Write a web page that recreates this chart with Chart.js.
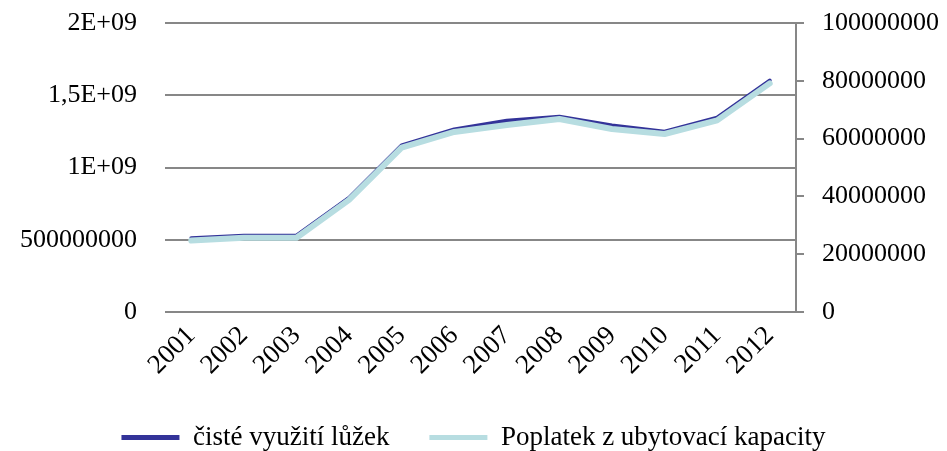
<!DOCTYPE html>
<html>
<head>
<meta charset="utf-8">
<script src="https://cdn.jsdelivr.net/npm/chart.js@4/dist/chart.umd.min.js"></script>
<style>
  html, body { margin: 0; padding: 0; background: #fff; }
  canvas { display: block; }
</style>
</head>
<body>
<canvas id="graf" width="947" height="451"></canvas>
<script>
// roky
var roky = ['2001', '2002', '2003', '2004', '2005', '2006', '2007', '2008', '2009', '2010', '2011', '2012'];
// levá osa
var cisteVyuzitiLuzek = [5.10e8, 5.28e8, 5.28e8, 7.90e8, 1.153e9, 1.264e9, 1.324e9, 1.352e9, 1.290e9, 1.248e9, 1.345e9, 1.602e9];
// pravá osa
var poplatekKapacita = [24.7e6, 25.7e6, 25.7e6, 38.8e6, 56.9e6, 62.3e6, 64.7e6, 66.8e6, 63.3e6, 61.6e6, 66.3e6, 79.1e6];

var popiskyLeva = ['0', '500000000', '1E+09', '1,5E+09', '2E+09'];
var popiskyPrava = ['0', '20000000', '40000000', '60000000', '80000000', '100000000'];

var seda = '#878787';
var pismo = 'Liberation Serif';

var ctx = document.getElementById('graf').getContext('2d');

var graf = new Chart(ctx, {
    type: 'line',
    data: {
        labels: roky,
        datasets: [{
            label: 'čisté využití lůžek',
            data: cisteVyuzitiLuzek,
            borderColor: '#333399',
            backgroundColor: '#333399',
            borderWidth: 4,
            pointRadius: 0,
            tension: 0,
            borderCapStyle: 'round',
            borderJoinStyle: 'round',
            yAxisID: 'y',
            order: 1
        }, {
            label: 'Poplatek z ubytovací kapacity',
            data: poplatekKapacita,
            borderColor: '#b7dde1',
            backgroundColor: '#b7dde1',
            borderWidth: 6,
            pointRadius: 0,
            tension: 0,
            borderCapStyle: 'round',
            borderJoinStyle: 'round',
            yAxisID: 'y1',
            order: 0
        }]
    },
    options: {
        responsive: false,
        animation: false,
        layout: { padding: { top: 23, left: 0, right: 0, bottom: 0 } },
        plugins: {
            tooltip: { enabled: false },
            legend: {
                position: 'bottom',
                maxHeight: 67,
                labels: {
                    color: '#000',
                    font: { family: pismo, size: 27 },
                    boxWidth: 58,
                    boxHeight: 5,
                    padding: 40,
                    sort: function (a, b) { return a.datasetIndex - b.datasetIndex; },
                    generateLabels: function (chart) {
                        var polozky = Chart.defaults.plugins.legend.labels.generateLabels(chart);
                        polozky.forEach(function (p) { p.lineWidth = 0; });
                        return polozky;
                    }
                }
            }
        },
        scales: {
            x: {
                offset: true,
                grid: { display: false, drawTicks: false },
                border: { display: false },
                ticks: {
                    color: '#000',
                    font: { family: pismo, size: 27 },
                    minRotation: 45,
                    maxRotation: 45,
                    padding: 8
                },
                afterFit: function (osa) { osa.height = 72; }
            },
            y: {
                position: 'left',
                min: 0,
                max: 2e9,
                ticks: {
                    stepSize: 5e8,
                    color: '#000',
                    font: { family: pismo, size: 26 },
                    padding: 28,
                    callback: function (v, i) { return popiskyLeva[i]; }
                },
                grid: { color: seda, lineWidth: 2, drawTicks: false },
                border: { display: false },
                afterFit: function (osa) {
                    osa.width = 165;
                    osa.paddingTop = 0;
                    osa.paddingBottom = 0;
                }
            },
            y1: {
                position: 'right',
                min: 0,
                max: 1e8,
                ticks: {
                    stepSize: 2e7,
                    color: '#000',
                    font: { family: pismo, size: 26 },
                    padding: 18,
                    callback: function (v, i) { return popiskyPrava[i]; }
                },
                grid: { drawOnChartArea: false, color: seda, lineWidth: 2, tickLength: 8 },
                border: { display: true, color: seda, width: 2 },
                afterFit: function (osa) {
                    osa.width = 151;
                    osa.paddingTop = 0;
                    osa.paddingBottom = 0;
                }
            }
        }
    }
});
</script>
</body>
</html>
